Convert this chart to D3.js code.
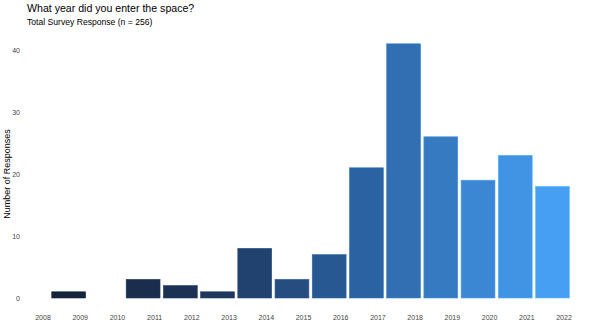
<!DOCTYPE html>
<html>
<head>
<meta charset="utf-8">
<script src="https://cdn.jsdelivr.net/npm/d3@7"></script>
<style>
  body { margin: 0; background: #fff; }
  svg { font-family: "Liberation Sans", Arial, sans-serif; }
</style>
</head>
<body>
<svg id="svg" width="600" height="336"></svg>
<script>
// data
var years = [2009, 2011, 2012, 2013, 2014, 2015, 2016, 2017, 2018, 2019, 2020, 2021, 2022]
var counts = [1, 3, 2, 1, 8, 3, 7, 21, 41, 26, 19, 23, 18]
var xTicks = [2008, 2009, 2010, 2011, 2012, 2013, 2014, 2015, 2016, 2017, 2018, 2019, 2020, 2021, 2022]
var yTicks = [0, 10, 20, 30, 40]

var svg = d3.select("#svg")

var x = d3.scaleLinear().domain([2008, 2022]).range([43, 564])
var y = d3.scaleLinear().domain([0, 40]).range([298, 50])
var step = x(2009) - x(2008)

var color = d3.scaleLinear()
  .domain([2009, 2013, 2017, 2022])
  .range(["#15233b", "#1e375d", "#2b63a2", "#479ff3"])
  .interpolate(d3.interpolateRgb)

// title
svg.append("text").attr("x", 27).attr("y", 12)
  .attr("font-size", 10.6).attr("fill", "#000")
  .text("What year did you enter the space?")
svg.append("text").attr("x", 27).attr("y", 24.5)
  .attr("font-size", 8.6).attr("fill", "#000")
  .text("Total Survey Response (n = 256)")

// y label
svg.append("text")
  .attr("transform", "translate(10," + y(20) + ") rotate(-90)")
  .attr("text-anchor", "middle")
  .attr("font-size", 9).attr("fill", "#000")
  .text("Number of Responses")

// y ticks
svg.append("g").selectAll("text").data(yTicks).enter().append("text")
  .attr("x", 20).attr("y", d => y(d) + 2.5)
  .attr("text-anchor", "end")
  .attr("font-size", 7).attr("fill", "#444")
  .text(d => d)

// x ticks
svg.append("g").selectAll("text").data(xTicks).enter().append("text")
  .attr("x", d => x(d)).attr("y", 320)
  .attr("text-anchor", "middle")
  .attr("font-size", 7).attr("fill", "#444")
  .text(d => d)

// bars (drawn a bit left of the labels, like the original)
var bw = step * 0.91
var off = -step * 0.31
svg.append("g").selectAll("rect").data(years).enter().append("rect")
  .attr("x", (d) => x(d) + off - bw / 2)
  .attr("width", bw)
  .attr("y", (d, i) => y(counts[i]))
  .attr("height", (d, i) => y(0) - y(counts[i]))
  .attr("fill", d => color(d))
  .attr("stroke", d => d3.color(color(d)).brighter(0.5))
  .attr("stroke-width", 0.6)
</script>
</body>
</html>
